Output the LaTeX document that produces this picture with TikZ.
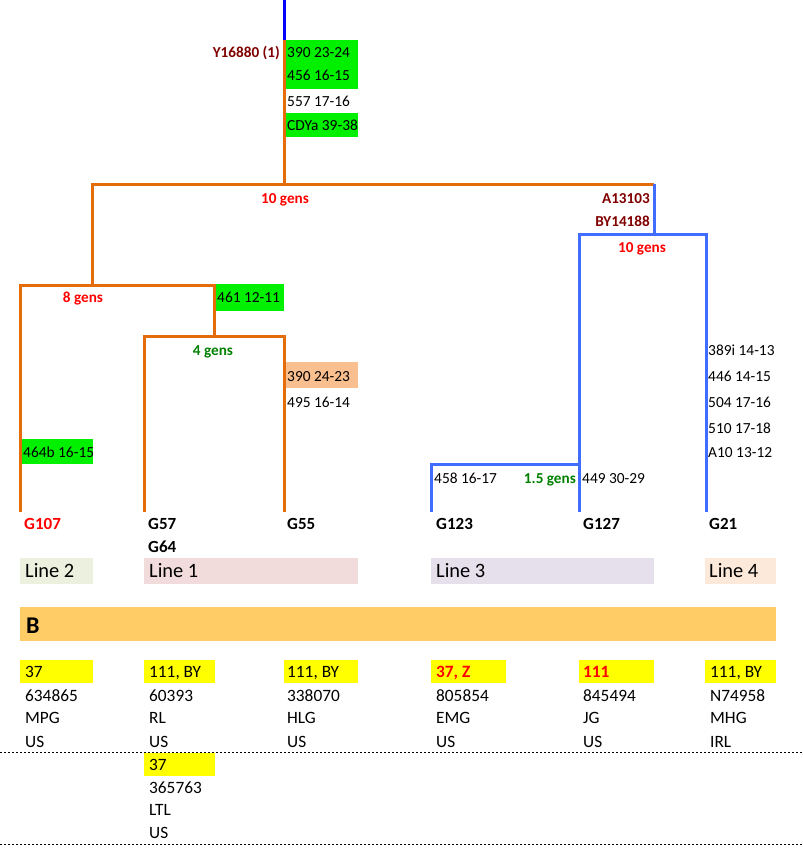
\documentclass[tikz,border=0pt]{standalone}
\usepackage{fontspec}
\setmainfont{Carlito}
\usepackage{tikz}
\definecolor{treeorange}{RGB}{228,108,10}
\definecolor{treeblue}{RGB}{64,109,255}
\definecolor{topblue}{RGB}{0,0,255}
\definecolor{snpred}{RGB}{128,0,0}
\definecolor{gensgreen}{RGB}{0,128,0}
\definecolor{strgreen}{RGB}{0,240,0}
\definecolor{strpeach}{RGB}{250,191,143}
\definecolor{linetwo}{RGB}{235,241,222}
\definecolor{lineone}{RGB}{242,220,219}
\definecolor{linethree}{RGB}{229,224,236}
\definecolor{linefour}{RGB}{253,233,217}
\definecolor{barorange}{RGB}{255,204,102}
\definecolor{kityellow}{RGB}{255,255,0}

\begin{document}
\begin{tikzpicture}[x=1pt,y=-1pt,
	orangeline/.style={line width=3pt,color=treeorange},
	blueline/.style={line width=3pt,color=treeblue},
	str/.style={inner sep=0pt,anchor=base west,font=\fontsize{15.4}{18}\selectfont},
	snp/.style={inner sep=0pt,anchor=base east,text=snpred,font=\bfseries\fontsize{15.2}{18}\selectfont},
	gens/.style={inner sep=0pt,anchor=base,font=\bfseries\fontsize{15.2}{18}\selectfont},
	leaf/.style={inner sep=0pt,anchor=base west,font=\bfseries\fontsize{17}{20}\selectfont},
	linename/.style={inner sep=0pt,anchor=base west,font=\fontsize{20.4}{24}\selectfont},
	kit/.style={inner sep=0pt,anchor=base west,font=\fontsize{17.3}{20}\selectfont},
	dotline/.style={line width=1pt,dash pattern=on 2pt off 2pt}]
		%%%%% START %%%%%
		\useasboundingbox (0,0) rectangle (803,860);
		
		% tree points
		\coordinate (top) at (284,0);
		\coordinate (y16880) at (284,40);
		\coordinate (split) at (284,184);
		\coordinate (j8) at (92,285);
		\coordinate (a13103) at (654,184);
		\coordinate (jB) at (654,234);
		\coordinate (j4top) at (214,285);
		\coordinate (j4) at (214,336);
		\coordinate (j15) at (579,464);
		\coordinate (g107) at (20,512);
		\coordinate (g57) at (144,512);
		\coordinate (g55) at (284,512);
		\coordinate (g123) at (431,512);
		\coordinate (g127) at (579,512);
		\coordinate (g21) at (706,512);
		
		% highlight boxes
		\fill[strgreen] (285,40) rectangle (358,89);
		\fill[strgreen] (285,113) rectangle (358,137);
		\fill[strgreen] (216,284) rectangle (284,311);
		\fill[strpeach] (285,362) rectangle (358,388);
		\fill[strgreen] (22,439) rectangle (93,464);
		
		% branches
		\draw[line width=3pt,color=topblue] (top) -- (y16880);
		\draw[orangeline] (y16880) -- (split);
		\draw[orangeline] (j8) |- (a13103);
		\draw[orangeline] (g107) |- (j4top) -- (j4);
		\draw[orangeline] (g57) |- (j4) -| (g55);
		\draw[blueline] (a13103) -- (jB);
		\draw[blueline] (g127) |- (jB) -| (g21);
		\draw[blueline] (g123) |- (j15);
		
		% snp and str labels
		\node[snp] (ly16880) at (280,57) {Y16880 (1)};
		\node[str] (s390a) at (287,57) {390 23-24};
		\node[str] (s456) at (287,80.5) {456 16-15};
		\node[str] (s557) at (287,106.5) {557 17-16};
		\node[str] (scdya) at (287,130) {CDYa 39-38};
		\node[gens,text=red] (gens10a) at (285,203) {10 gens};
		\node[snp] (la13103) at (650,203) {A13103};
		\node[snp] (lby14188) at (650,226.5) {BY14188};
		\node[gens,text=red] (gens10b) at (642,252) {10 gens};
		\node[gens,text=red] (gens8) at (83,302.5) {8 gens};
		\node[str] (s461) at (217,302) {461 12-11};
		\node[gens,text=gensgreen] (gens4) at (213,355) {4 gens};
		\node[str] (s390b) at (287,381) {390 24-23};
		\node[str] (s495) at (287,407) {495 16-14};
		\node[str] (s464b) at (23,457) {464b 16-15};
		\node[str] (s389i) at (708,355) {389i 14-13};
		\node[str] (s446) at (708,381) {446 14-15};
		\node[str] (s504) at (708,407) {504 17-16};
		\node[str] (s510) at (708,433) {510 17-18};
		\node[str] (sa10) at (708,457) {A10 13-12};
		\node[str] (s458) at (434,483) {458 16-17};
		\node[gens,text=gensgreen,anchor=base east] (gens15) at (576,483) {1.5 gens};
		\node[str] (s449) at (582,483) {449 30-29};
		
		% leaves
		\node[leaf,text=red] (lg107) at (24,529) {G107};
		\node[leaf] (lg57) at (148,529) {G57};
		\node[leaf] (lg64) at (148,552) {G64};
		\node[leaf] (lg55) at (287,529) {G55};
		\node[leaf] (lg123) at (436,529) {G123};
		\node[leaf] (lg127) at (583,529) {G127};
		\node[leaf] (lg21) at (709,529) {G21};
		
		% lines
		\fill[linetwo] (20,558) rectangle (93,584);
		\fill[lineone] (144,558) rectangle (358,584);
		\fill[linethree] (431,558) rectangle (654,584);
		\fill[linefour] (705,558) rectangle (776,584);
		\node[linename] (line2) at (25,577) {Line 2};
		\node[linename] (line1) at (149,577) {Line 1};
		\node[linename] (line3) at (436,577) {Line 3};
		\node[linename] (line4) at (709,577) {Line 4};
		
		% kits
		\fill[barorange] (20,607) rectangle (776,641);
		\node[inner sep=0pt,anchor=base west,font=\bfseries\fontsize{24}{28}\selectfont] (hb) at (26,633) {B};
		
		\fill[kityellow] (20,660) rectangle (93,683);
		\fill[kityellow] (144,660) rectangle (215,683);
		\fill[kityellow] (284,660) rectangle (358,683);
		\fill[kityellow] (431,660) rectangle (506,683);
		\fill[kityellow] (579,660) rectangle (654,683);
		\fill[kityellow] (705,660) rectangle (776,683);
		\fill[kityellow] (144,753) rectangle (215,776);
		
		\node[kit] (k1a) at (25,677) {37};
		\node[kit] (k1b) at (25,701) {634865};
		\node[kit] (k1c) at (25,723) {MPG};
		\node[kit] (k1d) at (25,747) {US};
		\node[kit] (k2a) at (149,677) {111, BY};
		\node[kit] (k2b) at (149,701) {60393};
		\node[kit] (k2c) at (149,723) {RL};
		\node[kit] (k2d) at (149,747) {US};
		\node[kit] (k3a) at (287,677) {111, BY};
		\node[kit] (k3b) at (287,701) {338070};
		\node[kit] (k3c) at (287,723) {HLG};
		\node[kit] (k3d) at (287,747) {US};
		\node[kit,text=red,font=\bfseries\fontsize{17.3}{20}\selectfont] (k4a) at (436,677) {37, Z};
		\node[kit] (k4b) at (436,701) {805854};
		\node[kit] (k4c) at (436,723) {EMG};
		\node[kit] (k4d) at (436,747) {US};
		\node[kit,text=red,font=\bfseries\fontsize{17.3}{20}\selectfont] (k5a) at (583,677) {111};
		\node[kit] (k5b) at (583,701) {845494};
		\node[kit] (k5c) at (583,723) {JG};
		\node[kit] (k5d) at (583,747) {US};
		\node[kit] (k6a) at (710,677) {111, BY};
		\node[kit] (k6b) at (710,701) {N74958};
		\node[kit] (k6c) at (710,723) {MHG};
		\node[kit] (k6d) at (710,747) {IRL};
		\node[kit] (k7a) at (149,770) {37};
		\node[kit] (k7b) at (149,793) {365763};
		\node[kit] (k7c) at (149,815) {LTL};
		\node[kit] (k7d) at (149,838) {US};
		
		\draw[dotline] (0,752) -- (803,752);
		\draw[dotline] (0,844) -- (803,844);
		%%%%% END %%%%%
\end{tikzpicture}
\end{document}
